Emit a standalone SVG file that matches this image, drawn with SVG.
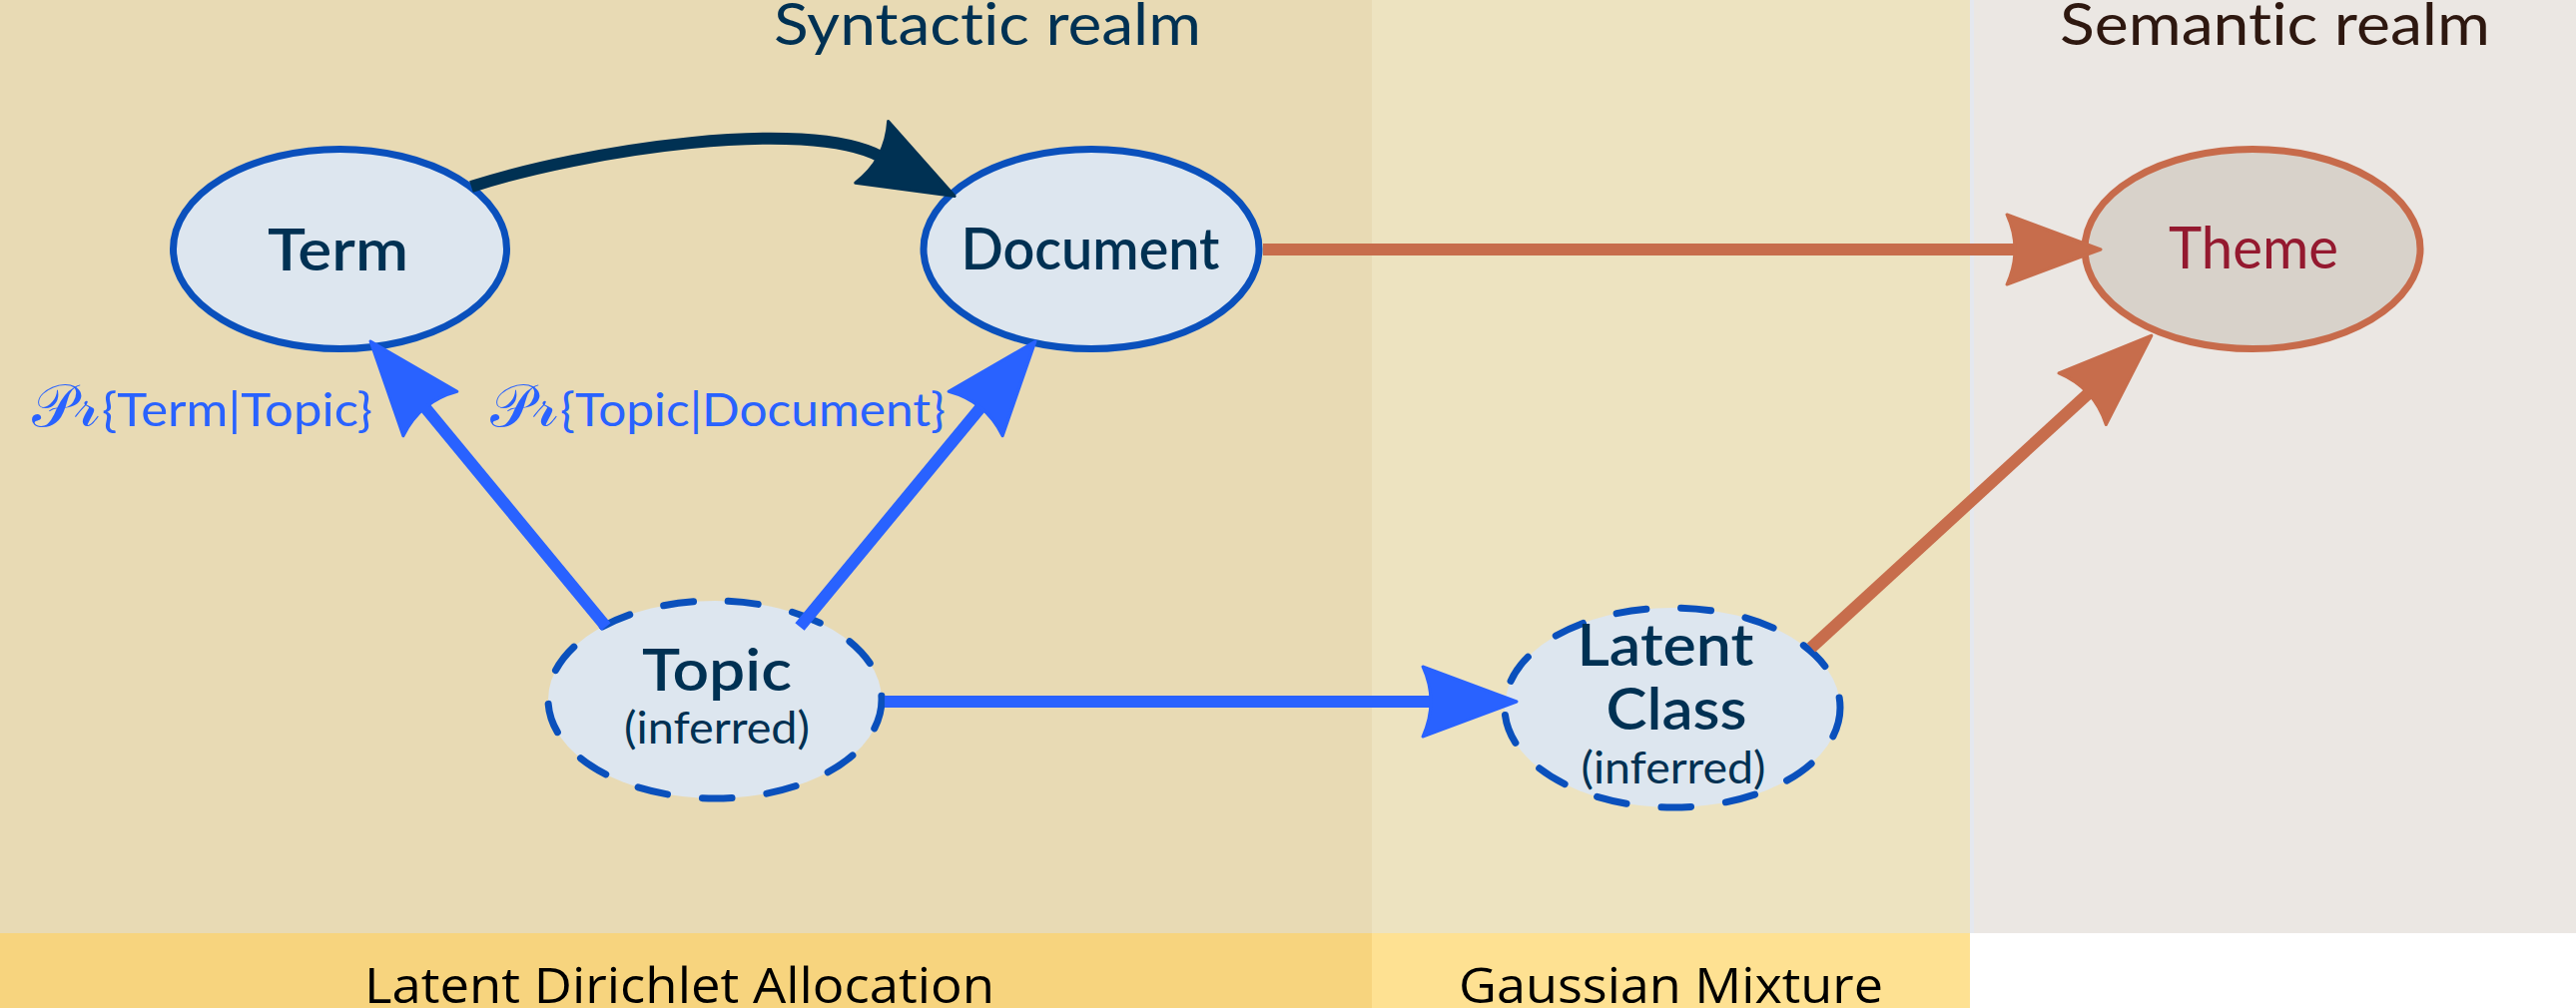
<svg xmlns="http://www.w3.org/2000/svg" width="2580" height="1010" viewBox="0 0 2580 1010">
<defs>
<style>
text{font-variant-ligatures:none}
.title{font-family:Lato,"Open Sans","Noto Sans",sans-serif;font-size:58px;text-anchor:middle}
.name{font-family:Lato,"Open Sans","Noto Sans",sans-serif;font-size:58px;font-weight:600;fill:#003153;text-anchor:middle}
.sub{font-family:Lato,"Open Sans","Noto Sans",sans-serif;font-size:45px;fill:#003153;text-anchor:middle}
.foot{font-family:"Open Sans","Noto Sans",sans-serif;font-size:50px;fill:#000;text-anchor:middle}
.lbl{font-family:Lato,"Open Sans","Noto Sans",sans-serif;font-size:46px;fill:#2962ff}
.scr{font-family:"DejaVu Serif","DejaVu Sans",serif;font-style:normal;font-size:60px}
.solid{fill:#dde6ef;stroke:#0a50bc;stroke-width:7}
.dash{fill:#dde6ef;stroke:#0a50bc;stroke-width:7;stroke-dasharray:30 35;stroke-linecap:round}
.edge{fill:none;stroke-width:12}
</style>
<marker id="ah-dark" markerUnits="userSpaceOnUse" markerWidth="100" markerHeight="80" viewBox="0 -40 100 80" refX="10" refY="0" orient="auto" overflow="visible">
<path d="M0,-35 L94,0 L0,35 Q16,0 0,-35 Z" fill="#003153" stroke="#003153" stroke-width="3" stroke-linejoin="round"/>
</marker>
<marker id="ah-orange" markerUnits="userSpaceOnUse" markerWidth="100" markerHeight="80" viewBox="0 -40 100 80" refX="10" refY="0" orient="auto" overflow="visible">
<path d="M0,-35 L94,0 L0,35 Q16,0 0,-35 Z" fill="#c76d4c" stroke="#c76d4c" stroke-width="3" stroke-linejoin="round"/>
</marker>
<marker id="ah-blue" markerUnits="userSpaceOnUse" markerWidth="100" markerHeight="80" viewBox="0 -40 100 80" refX="10" refY="0" orient="auto" overflow="visible">
<path d="M0,-35 L94,0 L0,35 Q16,0 0,-35 Z" fill="#2962ff" stroke="#2962ff" stroke-width="3" stroke-linejoin="round"/>
</marker>
</defs>
<rect width="2580" height="1010" fill="#ffffff"/>
<g id="regions">
<rect x="0" y="0" width="1374" height="935" fill="#e8dab4"/>
<rect x="1374" y="0" width="599" height="935" fill="#ede3c0"/>
<rect x="1973" y="0" width="4" height="935" fill="#e5e8ee"/>
<rect x="1977" y="0" width="603" height="935" fill="#ebe7e3"/>
<rect x="0" y="935" width="1374" height="75" fill="#f7d47e"/>
<rect x="1374" y="935" width="599" height="75" fill="#fee192"/>
</g>
<g id="titles">
<text class="title" x="989" y="45" fill="#003153" textLength="428" lengthAdjust="spacingAndGlyphs">Syntactic realm</text>
<text class="title" x="2278.5" y="45" fill="#2e1810" textLength="431" lengthAdjust="spacingAndGlyphs">Semantic realm</text>
<text class="foot" x="680.5" y="1005" textLength="631" lengthAdjust="spacingAndGlyphs">Latent Dirichlet Allocation</text>
<text class="foot" x="1673.5" y="1005" textLength="425" lengthAdjust="spacingAndGlyphs">Gaussian Mixture</text>
</g>
<g id="node-term">
<ellipse class="solid" cx="340.5" cy="249.5" rx="167" ry="100"/>
<text class="name" x="338.5" y="271" textLength="141" lengthAdjust="spacingAndGlyphs">Term</text>
</g>
<g id="node-document">
<ellipse class="solid" cx="1093" cy="249.5" rx="168" ry="100"/>
<text class="name" x="1092" y="270" textLength="259" lengthAdjust="spacingAndGlyphs">Document</text>
</g>
<g id="node-theme">
<ellipse cx="2256" cy="249.5" rx="168" ry="100" fill="#d8d2ca" stroke="#c76b4b" stroke-width="7"/>
<text class="name" x="2257" y="269" style="fill:#94192f;font-weight:400" textLength="170" lengthAdjust="spacingAndGlyphs">Theme</text>
</g>
<g id="node-topic">
<ellipse class="dash" cx="716" cy="701" rx="167" ry="99"/>
<text class="name" x="718" y="692" textLength="150" lengthAdjust="spacingAndGlyphs">Topic</text>
<text class="sub" x="718" y="745" textLength="186" lengthAdjust="spacingAndGlyphs">(inferred)</text>
</g>
<g id="node-latent-class">
<ellipse class="dash" cx="1675" cy="709" rx="168" ry="100"/>
<text class="name" x="1668" y="667" textLength="177" lengthAdjust="spacingAndGlyphs">Latent</text>
<text class="name" x="1679" y="731" textLength="141" lengthAdjust="spacingAndGlyphs">Class</text>
<text class="sub" x="1676" y="785" textLength="185" lengthAdjust="spacingAndGlyphs">(inferred)</text>
</g>
<g id="connectors">
<path class="edge" d="M472,187 C586,150 807,117 882,157" stroke="#003153" stroke-width="13" marker-end="url(#ah-dark)"/>
<path class="edge" d="M1265,250 L2020,250" stroke="#c76d4c" marker-end="url(#ah-orange)"/>
<path class="edge" d="M1814,649 L2093,393" stroke="#c76d4c" marker-end="url(#ah-orange)"/>
<path class="edge" d="M607,628 L424.5,406.8" stroke="#2962ff" marker-end="url(#ah-blue)"/>
<path class="edge" d="M801,628 L983.5,406.8" stroke="#2962ff" marker-end="url(#ah-blue)"/>
<path class="edge" d="M886,703 L1435,703" stroke="#2962ff" marker-end="url(#ah-blue)"/>
</g>
<g id="edge-labels">
<text class="lbl" y="427"><tspan class="scr" x="32" textLength="68" lengthAdjust="spacingAndGlyphs">𝒫𝓇</tspan><tspan x="102" textLength="271" lengthAdjust="spacingAndGlyphs">{Term|Topic}</tspan></text>
<text class="lbl" y="427"><tspan class="scr" x="491" textLength="68" lengthAdjust="spacingAndGlyphs">𝒫𝓇</tspan><tspan x="561" textLength="386" lengthAdjust="spacingAndGlyphs">{Topic|Document}</tspan></text>
</g>
</svg>
